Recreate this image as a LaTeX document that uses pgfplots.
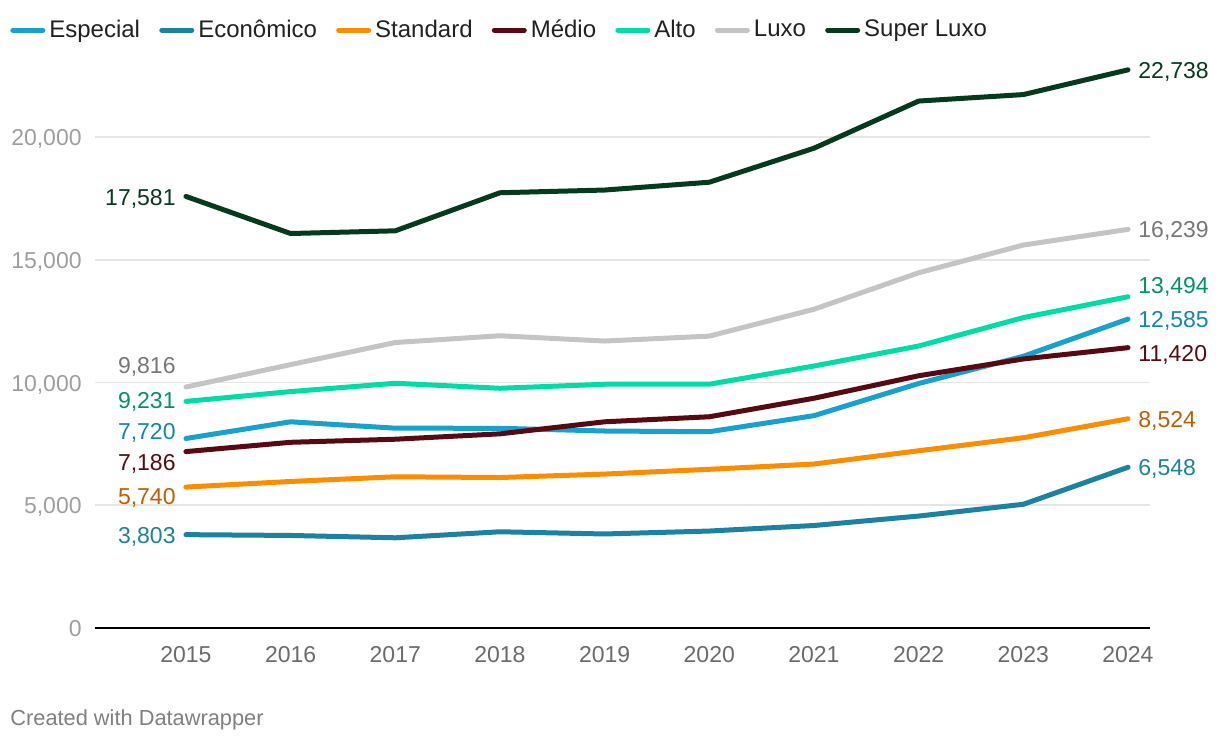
\documentclass[border=0pt]{standalone}
\usepackage{pgfplots}
\pgfplotsset{compat=1.18}
\usepackage{fontspec}
\setmainfont{Liberation Sans}

\definecolor{cEsp}{HTML}{18A1CD}
\definecolor{cEco}{HTML}{1D81A2}
\definecolor{cStd}{HTML}{FD8D00}
\definecolor{cMed}{HTML}{570A11}
\definecolor{cAlt}{HTML}{00DCA6}
\definecolor{cLux}{HTML}{C4C4C4}
\definecolor{cSup}{HTML}{063A1E}
% darker shades for the value labels
\definecolor{tEsp}{HTML}{1386B0}
\definecolor{tEco}{HTML}{1D81A2}
\definecolor{tStd}{HTML}{C15C00}
\definecolor{tMed}{HTML}{570A11}
\definecolor{tAlt}{HTML}{00916B}
\definecolor{tLux}{HTML}{777777}
\definecolor{tSup}{HTML}{063A1E}

\begin{document}
\begin{tikzpicture}
  \begin{axis}[
      scale only axis,
      width             = 527.5pt,
      height            = 282.3pt,
      xmin              = 2014.131,
      xmax              = 2024.21,
      ymin              = 0,
      ymax              = 23000,
      axis x line*      = bottom,
      axis y line*      = left,
      x axis line style = {black, line width=1pt},
      y axis line style = {draw=none},
      major tick length = 0pt,
      xtick             = {2015,...,2024},
      ytick             = {0,5000,10000,15000,20000},
      scaled y ticks    = false,
      ymajorgrids,
      grid style        = {color=black!10, line width=0.8pt},
      /pgf/number format/assume math mode=true,
      x tick label style = {/pgf/number format/1000 sep={}},
      xticklabel style  = {anchor=north, inner sep=0pt, yshift=-8.5pt,
                           text height=8.6pt, text depth=0pt, black!58,
                           font=\fontsize{11.5}{13}\selectfont},
      yticklabel style  = {anchor=east, inner sep=0pt, xshift=-6.5pt,
                           text height=8.6pt, text depth=0pt, black!38,
                           font=\fontsize{11.5}{13}\selectfont},
      every axis plot/.append style = {line width=2.5pt, line cap=round, line join=round},
      legend columns    = -1,
      legend cell align = left,
      legend image code/.code = {
        \path (0pt,0pt) -- (15pt,0pt);
        \draw[#1] (1.25pt,0pt) -- (13.75pt,0pt);
      },
      legend style = {
        at = {(-0.0806,1.059)},
        anchor = west,
        draw = none,
        fill = none,
        inner sep = 0pt,
        nodes = {inner sep=0pt},
        font = \fontsize{12}{14}\selectfont,
        text = black!87,
        /tikz/every odd column/.style = {column sep=2pt},
        /tikz/every even column/.style = {column sep=9.6pt},
      },
      clip = false
    ]

    \addplot [color=cEsp] coordinates {
      (2015,7720)(2016,8400)(2017,8140)(2018,8135)(2019,8025)
      (2020,7995)(2021,8650)(2022,9960)(2023,11070)(2024,12585)};
    \addlegendentry{Especial}

    \addplot [color=cEco] coordinates {
      (2015,3803)(2016,3770)(2017,3675)(2018,3920)(2019,3830)
      (2020,3950)(2021,4175)(2022,4560)(2023,5040)(2024,6548)};
    \addlegendentry{Econômico}

    \addplot [color=cStd] coordinates {
      (2015,5740)(2016,5970)(2017,6160)(2018,6130)(2019,6270)
      (2020,6465)(2021,6680)(2022,7220)(2023,7750)(2024,8524)};
    \addlegendentry{Standard}

    \addplot [color=cMed] coordinates {
      (2015,7186)(2016,7565)(2017,7690)(2018,7910)(2019,8400)
      (2020,8605)(2021,9360)(2022,10275)(2023,10960)(2024,11420)};
    \addlegendentry{Médio}

    \addplot [color=cAlt] coordinates {
      (2015,9231)(2016,9630)(2017,9970)(2018,9765)(2019,9930)
      (2020,9930)(2021,10672)(2022,11487)(2023,12645)(2024,13494)};
    \addlegendentry{Alto}

    \addplot [color=cLux] coordinates {
      (2015,9816)(2016,10730)(2017,11630)(2018,11905)(2019,11690)
      (2020,11890)(2021,12985)(2022,14470)(2023,15600)(2024,16239)};
    \addlegendentry{Luxo}

    \addplot [color=cSup] coordinates {
      (2015,17581)(2016,16070)(2017,16180)(2018,17730)(2019,17841)
      (2020,18160)(2021,19545)(2022,21466)(2023,21730)(2024,22738)};
    \addlegendentry{Super Luxo}

    % value labels, first year
    \begin{scope}[every node/.style={anchor=east, inner sep=0pt, xshift=-5pt,
        text height=8.6pt, text depth=0pt, font=\fontsize{11.5}{13}\selectfont}]
      \node[tSup]               at (axis cs:2015,17581) {17,581};
      \node[tLux, yshift=11pt]  at (axis cs:2015,9816)  {9,816};
      \node[tAlt, yshift=1pt]   at (axis cs:2015,9231)  {9,231};
      \node[tEsp, yshift=3.7pt] at (axis cs:2015,7720)  {7,720};
      \node[tMed, yshift=-5.2pt] at (axis cs:2015,7186) {7,186};
      \node[tStd, yshift=-4.5pt] at (axis cs:2015,5740) {5,740};
      \node[tEco]               at (axis cs:2015,3803)  {3,803};
    \end{scope}
    % value labels, last year
    \begin{scope}[every node/.style={anchor=west, inner sep=0pt, xshift=5pt,
        text height=8.6pt, text depth=0pt, font=\fontsize{11.5}{13}\selectfont}]
      \node[tSup]               at (axis cs:2024,22738) {22,738};
      \node[tLux]               at (axis cs:2024,16239) {16,239};
      \node[tAlt, yshift=5.8pt] at (axis cs:2024,13494) {13,494};
      \node[tEsp]               at (axis cs:2024,12585) {12,585};
      \node[tMed, yshift=-2.7pt] at (axis cs:2024,11420) {11,420};
      \node[tStd]               at (axis cs:2024,8524)  {8,524};
      \node[tEco]               at (axis cs:2024,6548)  {6,548};
    \end{scope}
  \end{axis}

  \node[anchor=west, inner sep=0pt, text=black!50, font=\fontsize{10.9}{12}\selectfont]
    at (-42.5pt,-46pt) {Created with Datawrapper};

  \pgfresetboundingbox
  \path[use as bounding box] (-47.5pt,-58pt) rectangle (562.5pt,314pt);
\end{tikzpicture}
\end{document}
